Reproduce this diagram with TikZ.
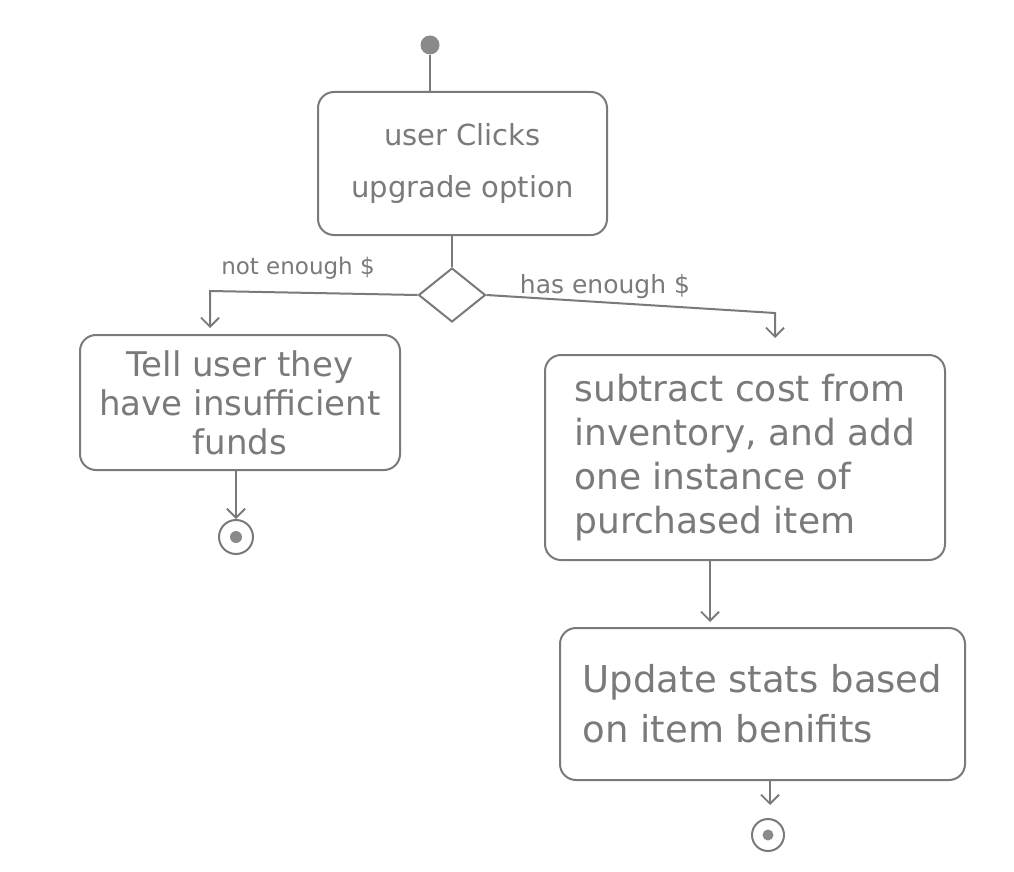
\documentclass[tikz,border=0pt]{standalone}
\usepackage{fontspec}
\setmainfont{DejaVu Sans}
\usetikzlibrary{shapes.geometric,arrows.meta}
\definecolor{pencil}{HTML}{7A7A7A}
\definecolor{penfill}{HTML}{8A8A8A}
\tikzset{
  actbox/.style={draw=pencil, line width=2pt, rounded corners=16pt, inner sep=0pt, text=pencil},
  flow/.style={draw=pencil, line width=2pt},
  flowarr/.style={flow, -{Straight Barb[length=9pt,width=18pt,line width=1.8pt]}},
  lbl/.style={text=pencil, inner sep=0pt},
}
\begin{document}
\begin{tikzpicture}[x=1pt,y=-1pt]
\useasboundingbox[fill=white] (0,0) rectangle (1014,872);

% start node
\node[circle, fill=penfill, minimum size=19pt, inner sep=0pt] (s) at (430,45) {};

% boxes
\node[actbox, minimum width=289pt, minimum height=143pt, align=center,
      font=\fontsize{29}{52}\selectfont] (b1) at (462.5,163.5) {user Clicks\\upgrade option};
\node[diamond, draw=pencil, line width=2pt, minimum width=67pt, minimum height=54pt, inner sep=0pt] (d) at (452,295) {};
\node[actbox, minimum width=320pt, minimum height=135pt, align=center,
      font=\fontsize{34}{39}\selectfont] (lb) at (240,402.5) {Tell user they\\have insufficient\\funds};
\node[actbox, minimum width=400pt, minimum height=205pt, align=left,
      font=\fontsize{36}{44}\selectfont] (rb) at (745,457.5) {subtract cost from\\inventory, and add\\one instance of\\purchased item};
\node[actbox, minimum width=405pt, minimum height=152pt, align=left,
      font=\fontsize{37}{50}\selectfont] (bb) at (762.5,704) {Update stats based\\on item benifits};

% end nodes
\node[circle, draw=pencil, line width=2pt, minimum size=34pt, inner sep=0pt] (e1) at (236,537) {};
\node[circle, fill=penfill, minimum size=12pt, inner sep=0pt] at (e1) {};
\node[circle, draw=pencil, line width=2pt, minimum size=32pt, inner sep=0pt] (e2) at (768,835) {};
\node[circle, fill=penfill, minimum size=11pt, inner sep=0pt] at (e2) {};

% guard labels
\node[lbl, font=\fontsize{23}{26}\selectfont] (lnot) at (298,268) {not enough \$};
\node[lbl, font=\fontsize{25}{28}\selectfont] (lhas) at (605,287) {has enough \$};

% helper coordinates
\coordinate (lturn) at (210,291);
\coordinate (ltip) at (210,328);
\coordinate (rturn) at (775,313);
\coordinate (rtip) at (775,338);
\coordinate (mfrom) at (710,560);
\coordinate (mtip) at (710,622);
\coordinate (e1from) at (236,470);
\coordinate (bfrom) at (770,780);
\coordinate (btip) at (770,805);

% connectors
\draw[flow] (s) -- (s |- b1.north);
\draw[flow] (d.north |- b1.south) -- (d.north);
\draw[flowarr] (d.west) -- (lturn) -- (ltip);
\draw[flowarr] (d.east) -- (rturn) -- (rtip);
\draw[flowarr] (e1from) -- (e1.north);
\draw[flowarr] (mfrom) -- (mtip);
\draw[flowarr] (bfrom) -- (btip);
\end{tikzpicture}
\end{document}
